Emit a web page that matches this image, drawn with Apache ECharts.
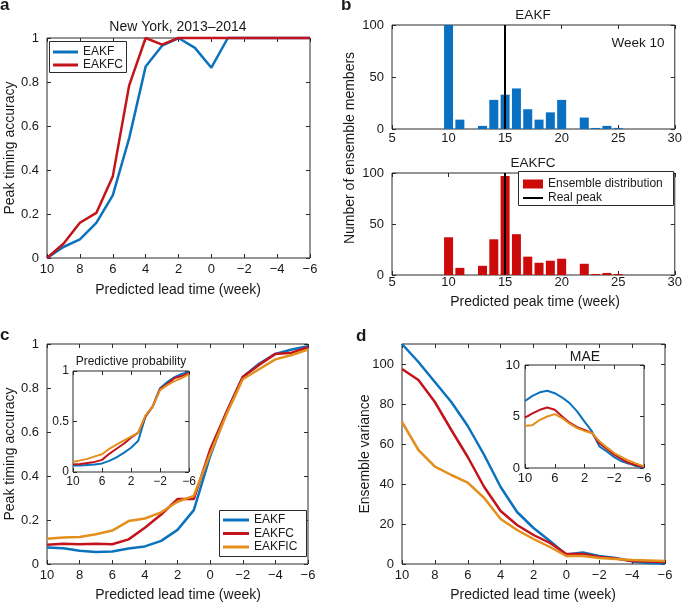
<!DOCTYPE html>
<html><head><meta charset="utf-8">
<script src="https://cdn.jsdelivr.net/npm/echarts@6/dist/echarts.min.js"></script>
<style>html,body{margin:0;padding:0;background:#fff}#c{width:685px;height:604px}</style>
</head><body><div id="c"></div>
<script>
// ---------- data ----------
const leadWeeks = [10,9,8,7,6,5,4,3,2,1,0,-1,-2,-3,-4,-5,-6];
const leadTicks = [10,8,6,4,2,0,-2,-4,-6];
// panel a : New York 2013-2014
const aEAKF  = [0,0.05,0.085,0.16,0.285,0.545,0.87,0.965,1,0.955,0.865,1,1,1,1,1,1];
const aEAKFC = [0,0.065,0.16,0.205,0.37,0.785,1,0.97,1,1,1,1,1,1,1,1,1];
// panel b : ensemble distribution of predicted peak week (week 10)
const peakWeeks = [10,11,13,14,15,16,17,18,19,20,22,23,24,25];
const bEAKF  = [100,9,3,28,33,39,19,9,16,28,11,1,3,1];
const bEAKFC = [37,7,9,35,97,40,18,12,14,16,11,1,2,1];
const realPeak = 15;
// panel c : peak timing accuracy
const cEAKF   = [0.075,0.072,0.06,0.055,0.057,0.07,0.08,0.105,0.155,0.245,0.49,0.69,0.85,0.91,0.955,0.975,0.99];
const cEAKFC  = [0.088,0.092,0.09,0.092,0.09,0.112,0.165,0.225,0.295,0.295,0.52,0.69,0.85,0.905,0.955,0.96,0.985];
const cEAKFIC = [0.115,0.12,0.123,0.135,0.152,0.195,0.207,0.235,0.283,0.31,0.5,0.68,0.84,0.885,0.93,0.95,0.975];
// panel c inset : predictive probability
const ciEAKF   = [0.065,0.065,0.07,0.075,0.085,0.11,0.145,0.19,0.24,0.31,0.55,0.65,0.83,0.89,0.94,0.97,0.99];
const ciEAKFC  = [0.075,0.08,0.09,0.1,0.12,0.18,0.23,0.28,0.34,0.39,0.55,0.65,0.82,0.87,0.93,0.95,0.98];
const ciEAKFIC = [0.1,0.115,0.13,0.155,0.175,0.23,0.27,0.31,0.35,0.39,0.56,0.65,0.81,0.86,0.9,0.93,0.97];
// panel d : ensemble variance
const dEAKF   = [110,101,91,81,69,54.5,38.5,26,18,11.5,4.7,5.8,4,3,1.3,0.5,0.2];
const dEAKFC  = [97.5,92,81,67,53.5,38.5,26.5,19.5,14.5,10.5,5,5,3.5,2.8,1.5,1.3,1];
const dEAKFIC = [71,57,48.7,44.5,40.7,33,22.5,17,12.5,8.5,4,4,3,2.5,2,1.8,1.5];
// panel d inset : MAE
const diEAKF   = [6.5,7.0,7.35,7.5,7.26,6.84,6.3,5.5,4.5,3.55,2.1,1.6,1.06,0.65,0.42,0.16,0.03];
const diEAKFC  = [4.9,5.3,5.65,5.87,5.65,5.0,4.4,3.97,3.7,3.4,2.4,1.84,1.3,0.87,0.48,0.26,0.1];
const diEAKFIC = [4.1,4.16,4.68,5.0,5.23,4.84,4.3,3.87,3.6,3.4,2.6,2.0,1.45,1.06,0.7,0.42,0.16];

// ---------- style ----------
const FONT = '"Liberation Sans", Arial, Helvetica, sans-serif';
const BLUE = '#0b72bd', RED = '#c3141c', ORANGE = '#e38f1c';
const BAR_BLUE = '#0a70c2', BAR_RED = '#cc0a0a';
const INK = '#1a1a1a', BOX = '#2a2a2a';

const grids = [
  {left:47,  top:38,  width:263, height:220},  // 0 a
  {left:392, top:25,  width:283, height:104},  // 1 b top
  {left:392, top:173, width:283, height:102},  // 2 b bottom
  {left:47,  top:344, width:261, height:220},  // 3 c
  {left:73,  top:371, width:116, height:101},  // 4 c inset
  {left:402, top:344, width:263, height:220},  // 5 d
  {left:525, top:365, width:119, height:103}   // 6 d inset
];

function fmt(v){
  const s = String(Math.round(v*1000)/1000);
  return s.replace('-', '\u2212');
}

const option = {
  animation:false,
  backgroundColor:'#fff',
  grid: grids.map((g,i)=>Object.assign({}, g, {show:true, borderColor:BOX, borderWidth:1,
        backgroundColor: (i===4||i===6)?'#fff':'transparent', containLabel:false})),
  xAxis:[], yAxis:[], series:[], legend:[], graphic:[]
};

function addAxes(gi, xo, yo){
  const tick = {show:true, inside:true, length:4, lineStyle:{color:BOX, width:1}};
  const xb = {type:'value', gridIndex:gi, min:xo.min, max:xo.max, interval:xo.interval,
    inverse:!!xo.inverse, axisLine:{show:false, onZero:false}, axisTick:tick, splitLine:{show:false}};
  option.xAxis.push(Object.assign({}, xb, {position:'bottom',
    axisLabel:{show:true, fontSize:xo.fs, fontFamily:FONT, color:INK, margin:xo.margin, formatter:fmt}}));
  option.xAxis.push(Object.assign({}, xb, {position:'top', axisLabel:{show:false}}));
  const yb = {type:'value', gridIndex:gi, min:yo.min, max:yo.max, interval:yo.interval,
    axisLine:{show:false, onZero:false}, axisTick:tick, splitLine:{show:false}};
  option.yAxis.push(Object.assign({}, yb, {position:'left',
    axisLabel:{show:true, fontSize:yo.fs, fontFamily:FONT, color:INK, margin:yo.margin, formatter:fmt,
      showMaxLabel: yo.hideMax ? false : true}}));
  option.yAxis.push(Object.assign({}, yb, {position:'right', axisLabel:{show:false}}));
}
const leadX = {min:-6, max:10, interval:2, inverse:true, fs:13, margin:5};
const insetX = {min:-6, max:10, interval:4, inverse:true, fs:12, margin:4};
addAxes(0, leadX, {min:0, max:1, interval:0.2, fs:13, margin:8});
addAxes(1, {min:5, max:30, interval:5, fs:13, margin:3}, {min:0, max:100, interval:50, fs:13, margin:8});
addAxes(2, {min:5, max:30, interval:5, fs:13, margin:1}, {min:0, max:100, interval:50, fs:13, margin:8});
addAxes(3, leadX, {min:0, max:1, interval:0.2, fs:13, margin:8});
addAxes(4, insetX, {min:0, max:1, interval:0.5, fs:12, margin:4});
addAxes(5, leadX, {min:0, max:110, interval:20, fs:13, margin:8, hideMax:true});
addAxes(6, Object.assign({}, insetX, {fs:13, margin:4}), {min:0, max:10, interval:5, fs:13, margin:5});

function addLine(gi, name, color, ys, width){
  option.series.push({type:'line', name, color, xAxisIndex:2*gi, yAxisIndex:2*gi,
    data: leadWeeks.map((w,i)=>[w, ys[i]]), symbol:'none', clip:false, z:3,
    lineStyle:{color, width}});
}
addLine(0,'EAKF',BLUE,aEAKF,2.5);
addLine(0,'EAKFC',RED,aEAKFC,2.5);
addLine(3,'EAKF',BLUE,cEAKF,2.5);
addLine(3,'EAKFC',RED,cEAKFC,2.5);
addLine(3,'EAKFIC',ORANGE,cEAKFIC,2.5);
addLine(4,'EAKF',BLUE,ciEAKF,2);
addLine(4,'EAKFC',RED,ciEAKFC,2);
addLine(4,'EAKFIC',ORANGE,ciEAKFIC,2);
addLine(5,'EAKF',BLUE,dEAKF,2.5);
addLine(5,'EAKFC',RED,dEAKFC,2.5);
addLine(5,'EAKFIC',ORANGE,dEAKFIC,2.5);
addLine(6,'EAKF',BLUE,diEAKF,2);
addLine(6,'EAKFC',RED,diEAKFC,2);
addLine(6,'EAKFIC',ORANGE,diEAKFIC,2);

function addBars(gi, name, color, ys){
  option.series.push({type:'bar', name, color, xAxisIndex:2*gi, yAxisIndex:2*gi,
    data: peakWeeks.map((w,i)=>[w, ys[i]]), barWidth:9, itemStyle:{color}, z:2});
  option.series.push({type:'line', name:'Real peak', color:'#000', xAxisIndex:2*gi, yAxisIndex:2*gi,
    data:[], symbol:'none', lineStyle:{color:'#000', width:2}, z:4,
    markLine:{silent:true, symbol:['none','none'], label:{show:false},
      lineStyle:{color:'#000', width:2, type:'solid'}, data:[{xAxis:realPeak}]}});
}
addBars(1,'EAKF distribution',BAR_BLUE,bEAKF);
addBars(2,'Ensemble distribution',BAR_RED,bEAKFC);

const legTxt = {fontSize:12, fontFamily:FONT, color:INK, lineHeight:12};
option.legend = [
  {data:['EAKF','EAKFC'], orient:'vertical', left:53, top:46, icon:'rect', itemWidth:25, itemHeight:3,
   itemGap:1, padding:0, selectedMode:false, textStyle:legTxt, z:10},
  {data:['EAKF','EAKFC','EAKFIC'], orient:'vertical', left:223, top:514, icon:'rect', itemWidth:26, itemHeight:3,
   itemGap:1.5, padding:0, selectedMode:false, textStyle:legTxt, z:10},
  {data:['Ensemble distribution'], orient:'vertical', left:523, top:178, icon:'rect', itemWidth:20, itemHeight:9,
   padding:0, selectedMode:false, textStyle:legTxt, z:10},
  {data:['Real peak'], orient:'vertical', left:523, top:192, icon:'rect', itemWidth:20, itemHeight:2,
   padding:0, selectedMode:false, textStyle:legTxt, z:10}
];

function txt(text, x, y, size, opts){
  opts = opts || {};
  return {type:'text', x, y, rotation: opts.rot || 0, z:10,
    style:{text, fill:INK, font:(opts.bold?'bold ':'')+size+'px '+FONT,
      textAlign: opts.align || 'center', textVerticalAlign: opts.va || 'middle',
      align: opts.align || 'center', verticalAlign: opts.va || 'middle'}};
}
function box(x,y,w,h){
  return {type:'rect', shape:{x,y,width:w,height:h}, z:5,
    style:{fill:'#fff', stroke:BOX, lineWidth:1}};
}
option.graphic = [
  box(49.5,41.5,77,31), box(219.5,510.5,87,46), box(518.5,171.5,155,34),
  txt('a', 0, 14, 17, {bold:true, align:'left', va:'bottom'}),
  txt('b', 341, 14, 17, {bold:true, align:'left', va:'bottom'}),
  txt('c', 0, 344, 17, {bold:true, align:'left', va:'bottom'}),
  txt('d', 356, 345, 17, {bold:true, align:'left', va:'bottom'}),
  txt('New York, 2013\u20132014', 178, 27, 14),
  txt('Peak timing accuracy', 10, 148, 14, {rot:Math.PI/2}),
  txt('Predicted lead time (week)', 178, 290, 14),
  txt('EAKF', 533, 15, 13.5),
  txt('EAKFC', 533, 163, 13.5),
  txt('Week 10', 638, 43, 13.5),
  txt('Number of ensemble members', 350, 148, 14, {rot:Math.PI/2}),
  txt('Predicted peak time (week)', 535, 302, 14),
  txt('Peak timing accuracy', 10, 454, 14, {rot:Math.PI/2}),
  txt('Predicted lead time (week)', 178, 595, 14),
  txt('Predictive probability', 131, 362, 12),
  txt('Ensemble variance', 365, 454, 14, {rot:Math.PI/2}),
  txt('Predicted lead time (week)', 533, 595, 14),
  txt('MAE', 585, 357, 14)
];

const chart = echarts.init(document.getElementById('c'), null, {renderer:'canvas'});
chart.setOption(option);
</script></body></html>
